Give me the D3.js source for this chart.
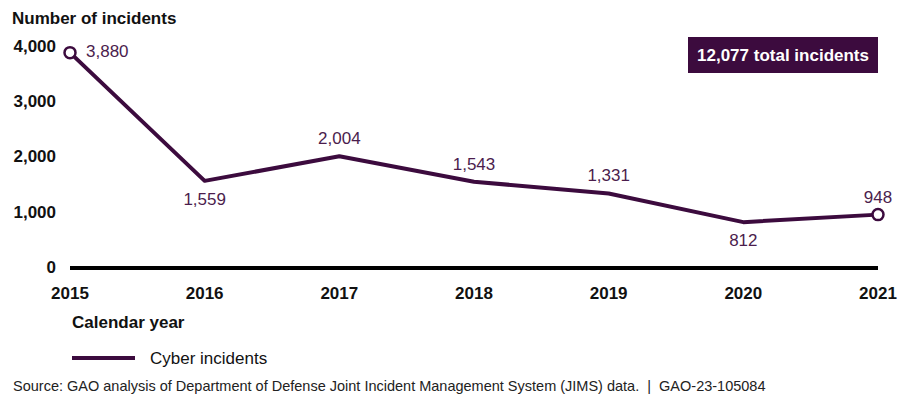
<!DOCTYPE html>
<html>
<head>
<meta charset="utf-8">
<script src="https://cdn.jsdelivr.net/npm/d3@7.9.0/dist/d3.min.js"></script>
<style>
  body { margin: 0; background: #fff; }
  svg { display: block; font-family: "Liberation Sans", Arial, sans-serif; }
</style>
</head>
<body>
<svg id="chart" width="898" height="400"></svg>
<script>
// Data
const years = [2015, 2016, 2017, 2018, 2019, 2020, 2021];
const incidents = [3880, 1559, 2004, 1543, 1331, 812, 948];
const labelSide = ["right", "below", "above", "above", "above", "below", "above"];
const yTicks = [0, 1000, 2000, 3000, 4000];
const totalLabel = "12,077 total incidents";

const purple = "#3c0b3e";
const labelColor = "#4b1d4d";

const svg = d3.select("#chart");

const x = d3.scaleLinear().domain([2015, 2021]).range([70, 878]);
const y = d3.scaleLinear().domain([0, 4000]).range([267, 46]);

// y axis title
svg.append("text")
  .attr("x", 12).attr("y", 24)
  .attr("font-size", 17).attr("font-weight", "bold").attr("fill", "#111")
  .text("Number of incidents");

// y tick labels
svg.selectAll(".ytick")
  .data(yTicks)
  .enter()
  .append("text")
  .attr("class", "ytick")
  .attr("x", 56)
  .attr("y", d => y(d))
  .attr("dy", "0.35em")
  .attr("text-anchor", "end")
  .attr("font-size", 17).attr("font-weight", "bold").attr("fill", "#111")
  .text(d => d3.format(",")(d));

// zero baseline
svg.append("line")
  .attr("x1", x(2015)).attr("x2", x(2021))
  .attr("y1", y(0) + 1).attr("y2", y(0) + 1)
  .attr("stroke", "#000").attr("stroke-width", 4);

// x tick labels
svg.selectAll(".xtick")
  .data(years)
  .enter()
  .append("text")
  .attr("class", "xtick")
  .attr("x", d => x(d))
  .attr("y", 299)
  .attr("text-anchor", "middle")
  .attr("font-size", 17).attr("font-weight", "bold").attr("fill", "#111")
  .text(d => d);

svg.append("text")
  .attr("x", 72).attr("y", 328)
  .attr("font-size", 17).attr("font-weight", "bold").attr("fill", "#111")
  .text("Calendar year");

// line
const points = years.map((yr, i) => ({ year: yr, value: incidents[i], side: labelSide[i] }));

const line = d3.line()
  .x(d => x(d.year))
  .y(d => y(d.value));

svg.append("path")
  .datum(points)
  .attr("d", line)
  .attr("fill", "none")
  .attr("stroke", purple)
  .attr("stroke-width", 4)
  .attr("stroke-linejoin", "round");

// endpoint markers
svg.selectAll(".endpoint")
  .data([points[0], points[points.length - 1]])
  .enter()
  .append("circle")
  .attr("class", "endpoint")
  .attr("cx", d => x(d.year))
  .attr("cy", d => y(d.value))
  .attr("r", 5.5)
  .attr("fill", "#fff")
  .attr("stroke", purple)
  .attr("stroke-width", 2.5);

// value labels
svg.selectAll(".vlabel")
  .data(points)
  .enter()
  .append("text")
  .attr("class", "vlabel")
  .attr("x", d => d.side === "right" ? x(d.year) + 16 : x(d.year))
  .attr("y", d => {
    if (d.side === "right") return y(d.value) - 2;
    if (d.side === "below") return y(d.value) + 18;
    return y(d.value) - 18;
  })
  .attr("dy", "0.35em")
  .attr("text-anchor", d => d.side === "right" ? "start" : "middle")
  .attr("font-size", 17).attr("fill", labelColor)
  .text(d => d3.format(",")(d.value));

// total box
const box = svg.append("g").attr("transform", "translate(688,37)");
box.append("rect")
  .attr("width", 190).attr("height", 36)
  .attr("fill", purple);
box.append("text")
  .attr("x", 95).attr("y", 18).attr("dy", "0.35em")
  .attr("text-anchor", "middle")
  .attr("font-size", 17).attr("font-weight", "bold").attr("fill", "#fff")
  .text(totalLabel);

// legend
svg.append("line")
  .attr("x1", 72).attr("x2", 135)
  .attr("y1", 358).attr("y2", 358)
  .attr("stroke", purple).attr("stroke-width", 4);
svg.append("text")
  .attr("x", 150).attr("y", 358).attr("dy", "0.35em")
  .attr("font-size", 17).attr("fill", "#111")
  .text("Cyber incidents");

// source
svg.append("text")
  .attr("x", 13).attr("y", 391)
  .attr("font-size", 14.5).attr("fill", "#222")
  .style("white-space", "pre")
  .text("Source: GAO analysis of Department of Defense Joint Incident Management System (JIMS) data.  |  GAO-23-105084");
</script>
</body>
</html>
